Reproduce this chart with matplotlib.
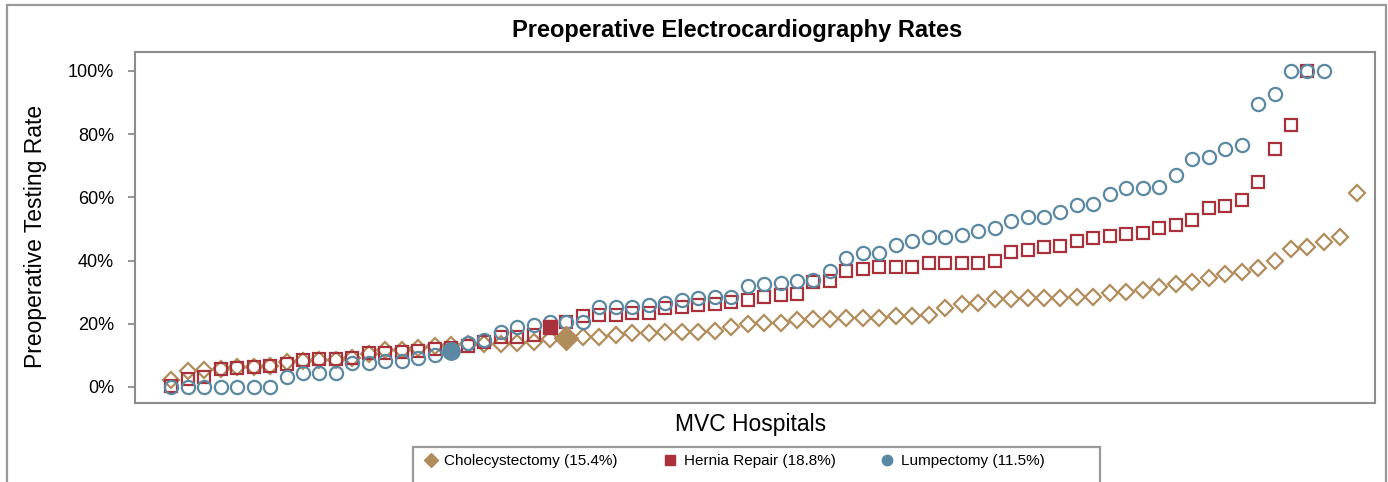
import numpy as np
import matplotlib
matplotlib.use('Agg')
import matplotlib.pyplot as plt
from matplotlib.patches import Rectangle
from matplotlib.lines import Line2D
from matplotlib.ticker import FuncFormatter

plt.rcParams['font.family'] = ['Liberation Sans', 'DejaVu Sans']

# hospital rates (%), sorted by rank; the overall rate sits in each list at avg index
chole = [2.2, 4.9, 5.2, 5.6, 6.2, 6.4, 6.6, 8.0, 8.3, 8.5, 8.5, 9.1, 10.4, 11.7, 11.7, 12.4,
         13.0, 13.3, 13.5, 13.5, 13.6, 13.8, 14.3, 15.1, 15.4, 15.9, 15.9, 16.5, 17.0, 17.2,
         17.5, 17.5, 17.5, 17.8, 19.1, 19.9, 20.2, 20.2, 21.2, 21.4, 21.4, 21.7, 21.7, 21.7,
         22.3, 22.5, 22.8, 24.9, 26.3, 26.7, 27.7, 27.7, 28.1, 28.1, 28.1, 28.6, 28.6, 29.6,
         29.9, 30.7, 31.5, 32.5, 33.1, 34.6, 35.7, 36.5, 37.6, 39.9, 43.7, 44.4, 45.8, 47.4, 61.5]
hernia = [0.3, 2.4, 3.0, 5.6, 5.9, 6.4, 6.7, 7.3, 8.5, 8.9, 8.9, 9.1, 10.7, 10.7, 11.2, 11.4,
          11.9, 12.4, 13.0, 14.3, 15.9, 15.9, 16.5, 18.8, 20.4, 22.3, 22.8, 22.8, 23.5, 23.5,
          24.9, 25.4, 25.9, 26.3, 27.0, 27.5, 28.4, 29.1, 29.3, 33.3, 33.6, 36.8, 37.3, 37.8,
          38.1, 38.1, 39.1, 39.3, 39.3, 39.3, 39.7, 42.8, 43.4, 44.2, 44.5, 46.2, 47.2, 47.9,
          48.5, 48.7, 50.2, 51.3, 52.8, 56.6, 57.1, 59.0, 65.0, 75.3, 82.8, 100.0]
lump = [0.0, 0.0, 0.0, 0.0, 0.0, 0.0, 0.0, 3.2, 4.5, 4.5, 4.5, 7.7, 7.7, 8.3, 8.3, 9.0, 10.1,
        11.5, 13.8, 14.7, 17.5, 19.1, 19.6, 20.4, 20.4, 20.4, 25.4, 25.4, 25.4, 25.9, 26.7,
        27.5, 28.1, 28.6, 28.6, 31.8, 32.5, 33.0, 33.6, 33.9, 36.8, 40.7, 42.5, 42.5, 44.9,
        46.3, 47.6, 47.6, 48.1, 49.5, 50.2, 52.6, 53.7, 53.7, 55.2, 57.7, 57.8, 61.0, 62.9,
        62.9, 63.4, 67.1, 72.2, 72.9, 75.3, 76.6, 89.5, 92.6, 100.0, 100.0, 100.0]

names = ['Cholecystectomy', 'Hernia Repair', 'Lumpectomy']
avg_rate = [15.4, 18.8, 11.5]
avg_idx = [24, 23, 17]
colors = ['#B08D5B', '#A8313C', '#5B88A3']
markers = ['D', 's', 'o']
msize = [8.5, 8.5, 9.5]
fsize = [12.0, 10.5, 12.5]

W, H = 1388, 482
fig = plt.figure(figsize=(W / 100, H / 100), dpi=100)
ax = fig.add_axes([135 / W, 1 - 403 / H, (1375 - 135) / W, (403 - 52) / H])

handles = []
for vals, name, av, k, c, m, ms, fs in zip([chole, hernia, lump], names, avg_rate, avg_idx,
                                           colors, markers, msize, fsize):
    v = np.array(vals, dtype=float)
    x = np.arange(len(v))
    keep = x != k
    ax.plot(x[keep], v[keep], ls='none', marker=m, ms=ms, mfc='none', mec=c, mew=1.6)
    ax.plot([k], [v[k]], ls='none', marker=m, ms=fs, mfc=c, mec=c, zorder=5)
    handles.append(Line2D([], [], ls='none', marker=m, ms=7.5, mfc=c, mec=c,
                          label='%s (%.1f%%)' % (name, av)))

ax.set_xlim(-2.2, 73.1)
ax.set_ylim(-5.1, 106)
ax.set_xticks([])
ax.set_yticks([0, 20, 40, 60, 80, 100])
ax.yaxis.set_major_formatter(FuncFormatter(lambda v, p: '%d%%' % v))
ax.tick_params(axis='y', length=5, width=1.3, color='#8c8c8c', pad=10, labelsize=13)
for s in ax.spines.values():
    s.set_color('#8c8c8c')
    s.set_linewidth(1.5)

fig.text(737 / W, 1 - 31 / H, 'Preoperative Electrocardiography Rates', ha='center',
         va='center', fontsize=17, fontweight='bold')
fig.text(36 / W, 1 - 236 / H, 'Preoperative Testing Rate', rotation=90, ha='center',
         va='center', fontsize=16.5)
fig.text(751 / W, 1 - 424 / H, 'MVC Hospitals', ha='center', va='center', fontsize=16.5)

leg = fig.legend(handles=handles, loc='center', bbox_to_anchor=(734 / W, 1 - 461 / H),
                 ncol=3, fontsize=11, frameon=False, borderpad=0, borderaxespad=0,
                 handletextpad=0.4, columnspacing=2.9, handlelength=1.0)

# legend box, its lower edge falls below the figure
fig.patches.append(Rectangle((413 / W, -0.1), (1100 - 413) / W, 0.1 + 1 - 447 / H, fill=False,
                             ec='#9a9a9a', lw=1.6, transform=fig.transFigure, figure=fig))
fig.patches.append(Rectangle((7 / W, -0.1), (1386 - 7) / W, 1.1 - 5 / H, fill=False,
                             ec='#9a9a9a', lw=1.6, transform=fig.transFigure, figure=fig))

fig.savefig('out.png', dpi=100)
